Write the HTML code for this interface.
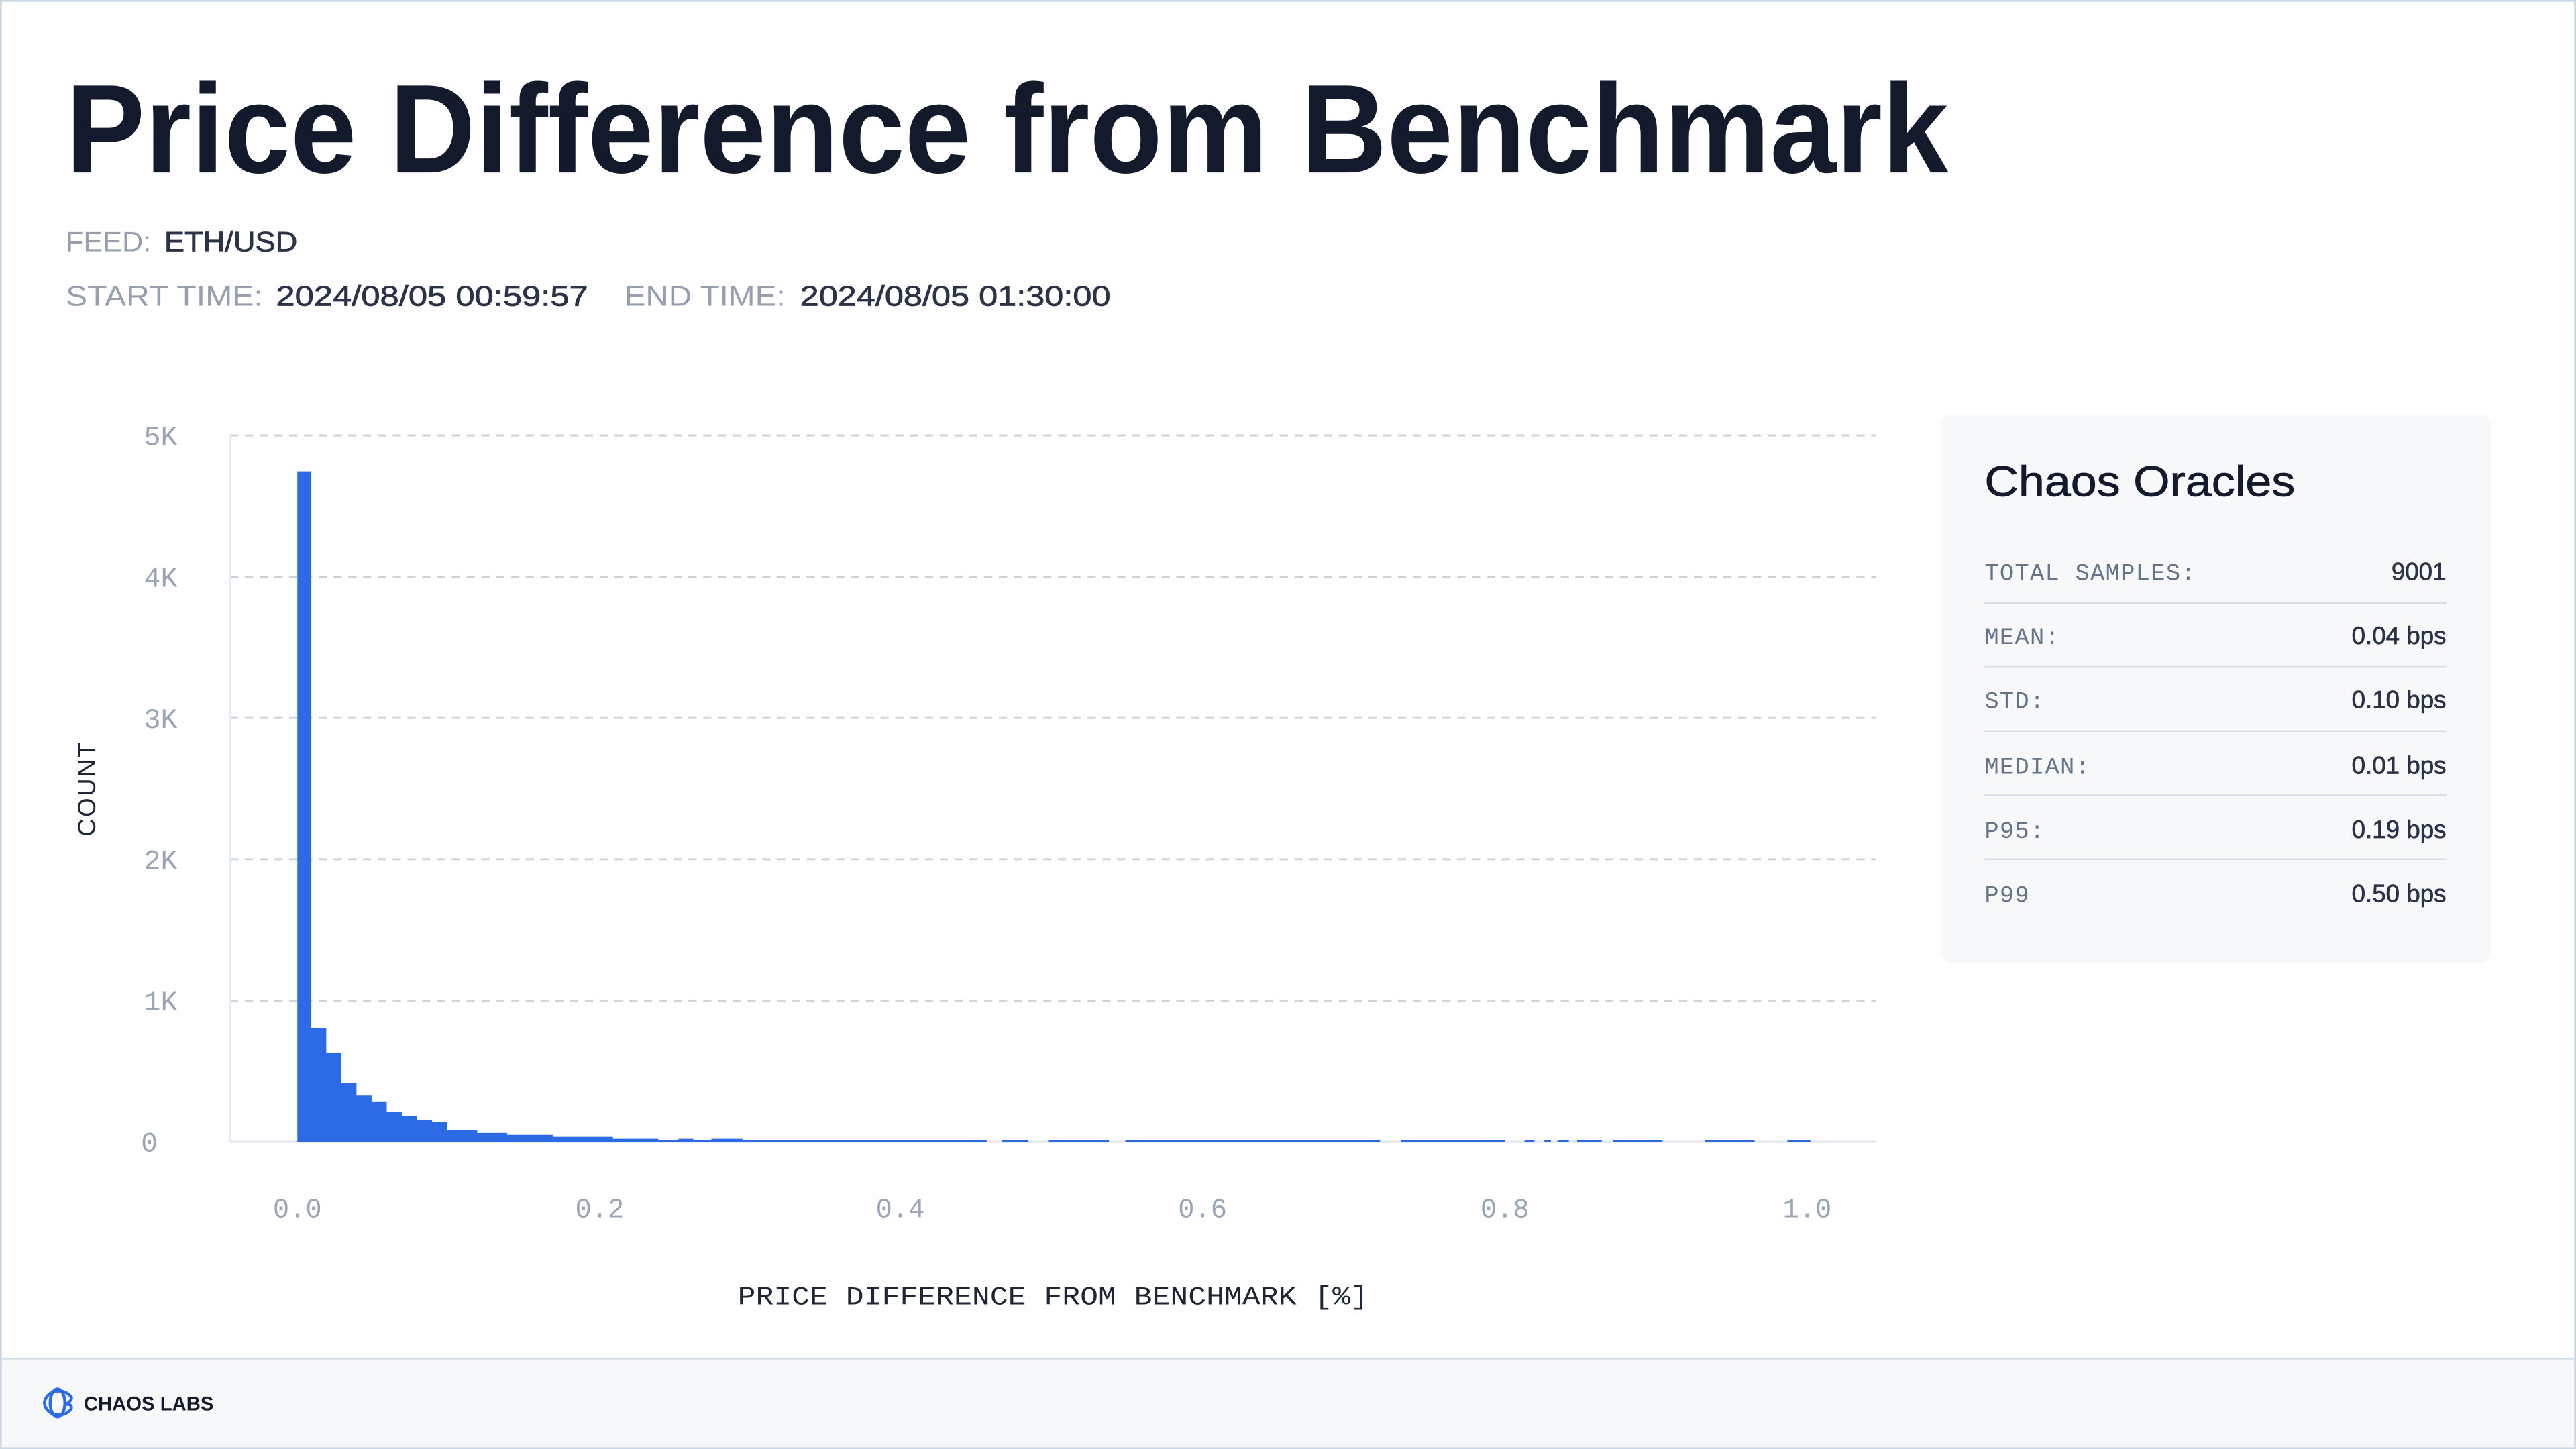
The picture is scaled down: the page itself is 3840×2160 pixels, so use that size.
<!DOCTYPE html>
<html><head><meta charset="utf-8"><style>
html,body{margin:0;padding:0;background:#fff;}
svg{display:block;}
</style></head><body>
<svg width="3840" height="2160" viewBox="0 0 1568 882" xmlns="http://www.w3.org/2000/svg">
<rect x="0" y="0" width="1568" height="882" fill="#fff"/>
<rect x="0" y="827" width="1568" height="55" fill="#f6f8fa"/>
<line x1="0" y1="827" x2="1568" y2="827" stroke="#d3dee9" stroke-width="1.2"/>
<rect x="0.5" y="0.5" width="1567" height="881" fill="none" stroke="#cbd8e4" stroke-width="1.2"/>

<text x="40" y="105" font-family="Liberation Sans, sans-serif" font-size="77" font-weight="bold" fill="#131a2b" textLength="1146" lengthAdjust="spacingAndGlyphs">Price Difference from Benchmark</text>

<g font-family="Liberation Sans, sans-serif" font-size="17">
<text x="40" y="153" fill="#959fb0" textLength="52" lengthAdjust="spacingAndGlyphs">FEED:</text>
<text x="100" y="153" fill="#2a3347" stroke="#2a3347" stroke-width="0.3" textLength="81" lengthAdjust="spacingAndGlyphs">ETH/USD</text>
<text x="40" y="186" fill="#959fb0" textLength="120" lengthAdjust="spacingAndGlyphs">START TIME:</text>
<text x="168" y="186" fill="#2a3347" stroke="#2a3347" stroke-width="0.3" textLength="190" lengthAdjust="spacingAndGlyphs">2024/08/05 00:59:57</text>
<text x="380" y="186" fill="#959fb0" textLength="98" lengthAdjust="spacingAndGlyphs">END TIME:</text>
<text x="487" y="186" fill="#2a3347" stroke="#2a3347" stroke-width="0.3" textLength="189" lengthAdjust="spacingAndGlyphs">2024/08/05 01:30:00</text>
</g>

<g stroke="#cdd2da" stroke-width="1.2" stroke-dasharray="5,4">
<line x1="140" y1="265" x2="1142" y2="265"/>
<line x1="140" y1="351" x2="1142" y2="351"/>
<line x1="140" y1="437" x2="1142" y2="437"/>
<line x1="140" y1="523" x2="1142" y2="523"/>
<line x1="140" y1="609" x2="1142" y2="609"/>
</g>
<line x1="140" y1="265" x2="140" y2="695" stroke="#e6ebf1" stroke-width="1.5"/>
<line x1="140" y1="695" x2="1142" y2="695" stroke="#e6ebf1" stroke-width="1.5"/>

<g font-family="Liberation Mono, monospace" font-size="17" fill="#9aa5b6" text-anchor="end">
<text x="108" y="271">5K</text>
<text x="108" y="357">4K</text>
<text x="108" y="443">3K</text>
<text x="108" y="529">2K</text>
<text x="108" y="615">1K</text>
<text x="96" y="701">0</text>
</g>
<g font-family="Liberation Mono, monospace" font-size="16.5" fill="#9aa5b6" text-anchor="middle">
<text x="181" y="741">0.0</text>
<text x="365" y="741">0.2</text>
<text x="548" y="741">0.4</text>
<text x="732" y="741">0.6</text>
<text x="916" y="741">0.8</text>
<text x="1100" y="741">1.0</text>
</g>
<text transform="translate(58,480) rotate(-90)" font-family="Liberation Sans, sans-serif" font-size="15" fill="#1e2535" text-anchor="middle" letter-spacing="1">COUNT</text>
<text x="641" y="794" font-family="Liberation Mono, monospace" font-size="16" fill="#1e2535" text-anchor="middle" textLength="384" lengthAdjust="spacingAndGlyphs">PRICE DIFFERENCE FROM BENCHMARK [%]</text>

<g fill="#2d6be6">
<rect x="181" y="286.9" width="8.5" height="408.1"/>
<rect x="189.2" y="625.9" width="9.4" height="69.1"/>
<rect x="198.4" y="640.8" width="9.4" height="54.2"/>
<rect x="207.6" y="659.4" width="9.4" height="35.6"/>
<rect x="216.8" y="666.9" width="9.4" height="28.1"/>
<rect x="226" y="670.4" width="9.4" height="24.6"/>
<rect x="235.2" y="677" width="9.4" height="18"/>
<rect x="244.4" y="679.4" width="9.4" height="15.6"/>
<rect x="253.6" y="681.8" width="9.4" height="13.2"/>
<rect x="262.8" y="683" width="9.4" height="12"/>
<rect x="272" y="687.8" width="18.5" height="7.2"/>
<rect x="290.3" y="689.6" width="18.5" height="5.4"/>
<rect x="308.7" y="690.8" width="27.7" height="4.2"/>
<rect x="336.2" y="692" width="36.9" height="3"/>
<rect x="373" y="693.2" width="27.7" height="1.8"/>
<rect x="400.6" y="693.8" width="200" height="1.2"/>
<rect x="413" y="693.2" width="9" height="1.8"/>
<rect x="433" y="693.2" width="19" height="1.8"/>
<rect x="610" y="693.8" width="16" height="1.2"/>
<rect x="638" y="693.8" width="37" height="1.2"/>
<rect x="685" y="693.8" width="155" height="1.2"/>
<rect x="853" y="693.8" width="63" height="1.2"/>
<rect x="928" y="693.8" width="6" height="1.2"/>
<rect x="940" y="693.8" width="4" height="1.2"/>
<rect x="948" y="693.8" width="7" height="1.2"/>
<rect x="960" y="693.8" width="15" height="1.2"/>
<rect x="982" y="693.8" width="30" height="1.2"/>
<rect x="1038" y="693.8" width="30" height="1.2"/>
<rect x="1088" y="693.8" width="14" height="1.2"/>
</g>

<rect x="1182" y="252" width="334" height="334" rx="6" fill="#f6f8fa"/>
<text x="1208" y="302" font-family="Liberation Sans, sans-serif" font-size="26" fill="#131a2b" stroke="#131a2b" stroke-width="0.3" textLength="189" lengthAdjust="spacingAndGlyphs">Chaos Oracles</text>
<g stroke="#d3dee9" stroke-width="1">
<line x1="1208" y1="367" x2="1489" y2="367"/>
<line x1="1208" y1="406" x2="1489" y2="406"/>
<line x1="1208" y1="445" x2="1489" y2="445"/>
<line x1="1208" y1="484" x2="1489" y2="484"/>
<line x1="1208" y1="523" x2="1489" y2="523"/>
</g>
<g font-family="Liberation Mono, monospace" font-size="14.5" fill="#66748a" letter-spacing="0.5">
<text x="1208" y="353">TOTAL SAMPLES:</text>
<text x="1208" y="392">MEAN:</text>
<text x="1208" y="431">STD:</text>
<text x="1208" y="471">MEDIAN:</text>
<text x="1208" y="510">P95:</text>
<text x="1208" y="549">P99</text>
</g>
<g font-family="Liberation Sans, sans-serif" font-size="15" fill="#2a3347" stroke="#2a3347" stroke-width="0.3" text-anchor="end">
<text x="1489" y="353">9001</text>
<text x="1489" y="392">0.04 bps</text>
<text x="1489" y="431">0.10 bps</text>
<text x="1489" y="471">0.01 bps</text>
<text x="1489" y="510">0.19 bps</text>
<text x="1489" y="549">0.50 bps</text>
</g>

<g fill="none" stroke="#2d6be6" stroke-width="1.8">
<ellipse cx="35" cy="854" rx="4.5" ry="8.5"/>
<path d="M42 849 C38 845 28 846 27 854 C28 862 38 863 42 859 C45 857 43 854 40 855 C43 853 45 851 42 849 Z"/>
</g>
<text x="51" y="858.5" font-family="Liberation Sans, sans-serif" font-size="12" font-weight="bold" fill="#131a2b" textLength="79" lengthAdjust="spacingAndGlyphs">CHAOS LABS</text>
</svg>
</body></html>
